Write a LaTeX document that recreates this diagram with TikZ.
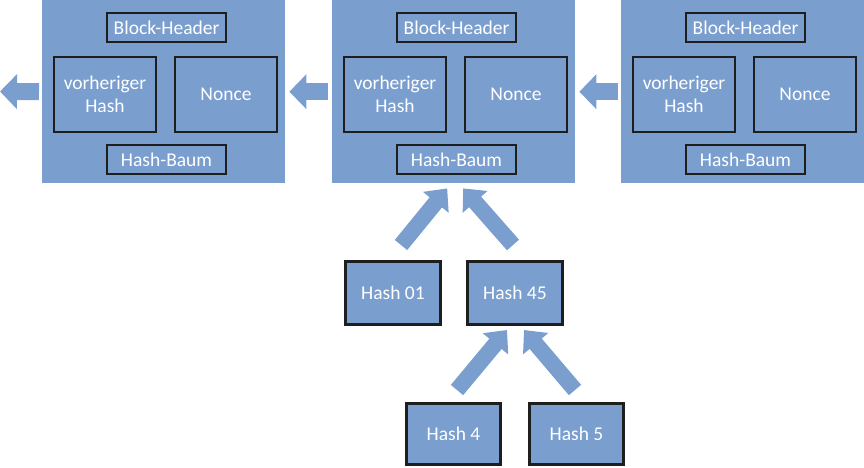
\documentclass[tikz,border=0pt]{standalone}
\usepackage{fontspec}
\setmainfont{Carlito}
\usetikzlibrary{arrows.meta,calc}
\definecolor{bblue}{HTML}{7A9ECE}
\definecolor{bdark}{HTML}{1E1E1E}
\tikzset{
  blockbox/.style={fill=bblue,draw=none,minimum width=243pt,minimum height=183pt,inner sep=0pt},
  innerbox/.style={draw=bdark,line width=2pt,fill=bblue,text=white,inner sep=0pt,align=center,
    font=\fontsize{19.5}{23}\selectfont},
  hashbox/.style={draw=bdark,line width=3pt,fill=bblue,text=white,inner sep=0pt,
    font=\fontsize{19.5}{23}\selectfont},
  bigarrow/.style={draw=bblue,line width=17pt,-{Triangle[width=34pt,length=17pt]}},
  uparrow/.style={draw=bblue,line width=16pt,-{Triangle[width=32pt,length=18pt]}},
}
\begin{document}
\begin{tikzpicture}[x=1pt,y=-1pt]
\useasboundingbox (0,0) rectangle (864,467);
% blocks
\foreach \n/\x in {b1/42,b2/332,b3/621}{
  \node[blockbox,anchor=north west] (\n) at (\x,0) {};
  \node[innerbox,minimum width=119pt,minimum height=29pt] (\n bh) at (\x+124.5,27.5) {Block-Header};
  \node[innerbox,minimum width=102pt,minimum height=75pt] (\n vh) at (\x+63,94.5) {vorheriger\\Hash};
  \node[innerbox,minimum width=102pt,minimum height=75pt] (\n no) at (\x+184,94.5) {Nonce};
  \node[innerbox,minimum width=119pt,minimum height=29pt] (\n hb) at (\x+124.5,159.5) {Hash-Baum};
}
% hash nodes
\node[hashbox,minimum width=95pt,minimum height=63pt] (h01) at (393,293) {Hash 01};
\node[hashbox,minimum width=95pt,minimum height=63pt] (h45) at (515,293) {Hash 45};
\node[hashbox,minimum width=94pt,minimum height=61pt] (h4) at (453.5,434) {Hash 4};
\node[hashbox,minimum width=94pt,minimum height=61pt] (h5) at (576.5,434) {Hash 5};
\coordinate (lend) at (0,91.5);
% horizontal arrows
\draw[bigarrow,shorten <=3pt] (b1.west) -- (lend);
\draw[bigarrow,shorten <=4pt,shorten >=4pt] (b2.west) -- (b1.east);
\draw[bigarrow,shorten <=3pt,shorten >=4pt] (b3.west) -- (b2.east);
% up arrows
\draw[uparrow] ($(h01.north)+(8,-15)$) -- ($(b2.south)+(-6.5,5)$);
\draw[uparrow] ($(h45.north)+(-2,-15)$) -- ($(b2.south)+(9.5,5)$);
\draw[uparrow] ($(h4.north)+(3.5,-12)$) -- ($(h45.south)+(-8,4)$);
\draw[uparrow] ($(h5.north)+(-1.5,-12)$) -- ($(h45.south)+(9,4)$);
\end{tikzpicture}
\end{document}
